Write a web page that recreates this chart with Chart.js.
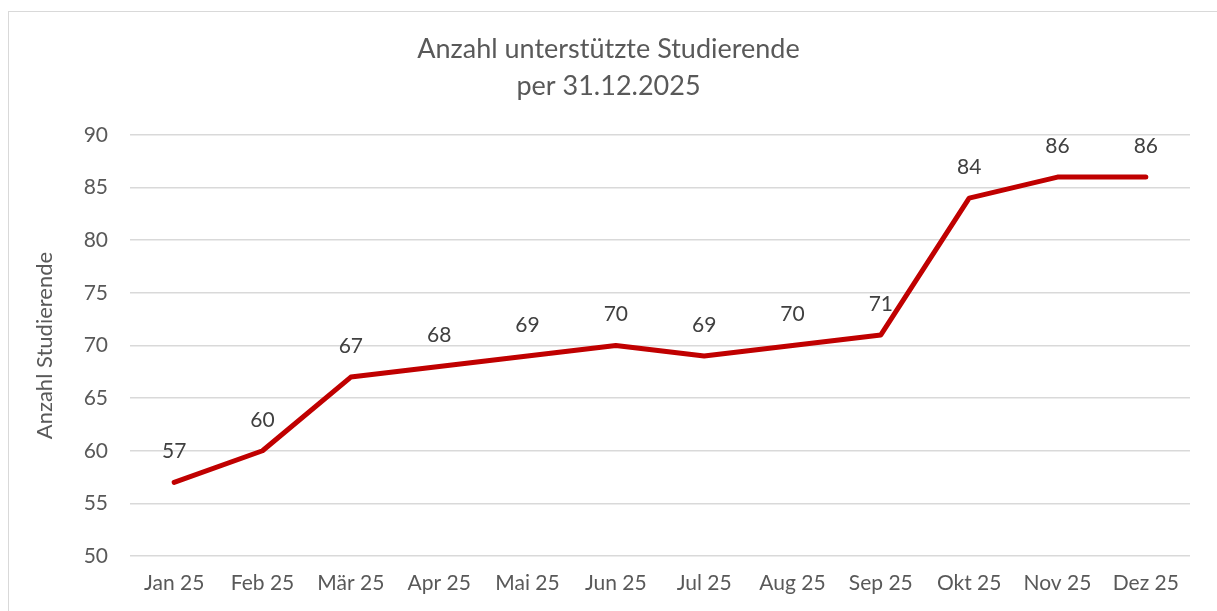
<!DOCTYPE html>
<html>
<head>
<meta charset="utf-8">
<script src="https://cdn.jsdelivr.net/npm/chart.js@4"></script>
<style>
  html, body { margin: 0; padding: 0; background: #fff; }
  #frame { position: absolute; left: 8px; top: 11px; width: 1230px; height: 620px; border: 1px solid #d9d9d9; }
  #wrap { position: absolute; left: 0; top: 0; width: 1217px; height: 611px; }
</style>
</head>
<body>
<div id="frame"></div>
<div id="wrap"><canvas id="chart"></canvas></div>
<script>
const months = ['Jan 25', 'Feb 25', 'Mär 25', 'Apr 25', 'Mai 25', 'Jun 25', 'Jul 25', 'Aug 25', 'Sep 25', 'Okt 25', 'Nov 25', 'Dez 25'];
const students = [57, 60, 67, 68, 69, 70, 69, 70, 71, 84, 86, 86];
const titleLines = ['Anzahl unterstützte Studierende', 'per 31.12.2025'];
const yTitle = 'Anzahl Studierende';

const fontName = 'Lato';

// values over the points, like excel's data labels
const pointLabels = {
    id: 'pointLabels',
    afterDatasetsDraw(chart) {
        const { ctx } = chart
        const meta = chart.getDatasetMeta(0)
        ctx.save()
        ctx.font = '21px ' + fontName
        ctx.fillStyle = '#404040'
        ctx.textAlign = 'center'
        ctx.textBaseline = 'middle'
        meta.data.forEach((pt, i) => {
            ctx.fillText(String(students[i]), pt.x, pt.y - 31)
        })
        ctx.restore()
    }
}

new Chart(document.getElementById('chart'), {
    type: 'line',
    data: {
        labels: months,
        datasets: [{
            label: yTitle,
            data: students,
            borderColor: '#C00000',
            borderWidth: 5,
            borderCapStyle: 'round',
            borderJoinStyle: 'round',
            pointRadius: 0,
            tension: 0
        }]
    },
    options: {
        responsive: true,
        maintainAspectRatio: false,
        animation: false,
        layout: {
            padding: 0
        },
        scales: {
            x: {
                offset: true,
                grid: { display: false, drawTicks: false },
                border: { display: false },
                ticks: {
                    color: '#595959',
                    font: { family: fontName, size: 21 },
                    padding: 15,
                    maxRotation: 0,
                    autoSkip: false
                },
                afterFit(scale) { scale.height = 55 }
            },
            y: {
                min: 50,
                max: 90,
                grid: { color: '#d9d9d9', lineWidth: 1.5, drawTicks: false },
                border: { display: false },
                ticks: {
                    stepSize: 5,
                    color: '#595959',
                    font: { family: fontName, size: 21 },
                    padding: 22
                },
                title: {
                    display: true,
                    text: yTitle,
                    color: '#595959',
                    font: { family: fontName, size: 22 },
                    padding: { top: 32, bottom: 0 }
                },
                afterFit(scale) { scale.width = 130 }
            },
            // empty right axis, only keeps the gap on the right side
            yRight: {
                position: 'right',
                min: 50,
                max: 90,
                grid: { display: false },
                border: { display: false },
                ticks: { display: false },
                afterFit(scale) { scale.width = 27 }
            }
        },
        plugins: {
            legend: { display: false },
            tooltip: { enabled: false },
            title: {
                display: true,
                text: titleLines,
                color: '#595959',
                font: { family: fontName, size: 27, weight: 'normal', lineHeight: 1.37 },
                padding: { top: 31, bottom: 30 }
            }
        }
    },
    plugins: [pointLabels]
});
</script>
</body>
</html>
